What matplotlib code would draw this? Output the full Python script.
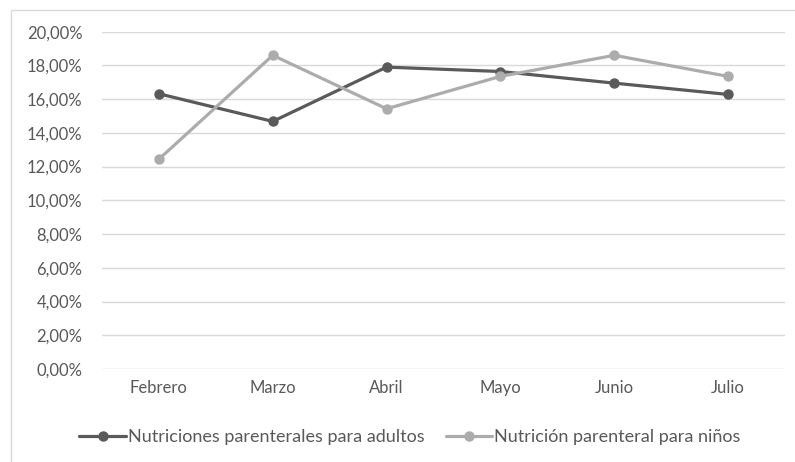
import matplotlib.pyplot as plt
from matplotlib.lines import Line2D
from matplotlib.ticker import FuncFormatter

meses = ['Febrero', 'Marzo', 'Abril', 'Mayo', 'Junio', 'Julio']
adultos = [16.32, 14.68, 17.90, 17.64, 16.95, 16.28]
ninos = [12.44, 18.60, 15.43, 17.35, 18.60, 17.35]
yticks = [0, 2, 4, 6, 8, 10, 12, 14, 16, 18, 20]

plt.rcParams['font.family'] = ['Lato', 'DejaVu Sans']
text_gray = '#595959'

fig = plt.figure(figsize=(7.95, 4.62), dpi=100, facecolor='white')
ax = fig.add_axes([102 / 795, 1 - 369 / 462, 683 / 795, 337.3 / 462])

x = range(len(meses))
ax.plot(x, adultos, color='#5a5a5a', lw=2.3, marker='o', ms=6.5,
        label='Nutriciones parenterales para adultos', solid_capstyle='round')
ax.plot(x, ninos, color='#acacac', lw=2.3, marker='o', ms=6.5,
        label='Nutrición parenteral para niños', solid_capstyle='round')

ax.set_xlim(-0.5, len(meses) - 0.5)
ax.set_ylim(0, 20)
ax.set_yticks(yticks)
ax.yaxis.set_major_formatter(FuncFormatter(lambda v, p: f'{v:.2f}%'.replace('.', ',')))
ax.set_xticks(list(x))
ax.set_xticklabels(meses)
ax.grid(axis='y', color='#d9d9d9', lw=1)
ax.set_axisbelow(True)
for s in ax.spines.values():
    s.set_visible(False)
ax.tick_params(length=0, labelsize=12, colors=text_gray)
ax.tick_params(axis='y', pad=14)
ax.tick_params(axis='x', pad=8)

fig.legend(loc='center', bbox_to_anchor=(410 / 795, 1 - 437 / 462), ncol=2,
           frameon=False, fontsize=13, labelcolor=text_gray,
           handlelength=2.6, handletextpad=0.1, columnspacing=1.15)

# chart area frame (top and left edges)
fig.add_artist(Line2D([11 / 795, 11 / 795, 1], [0, 1 - 10 / 462, 1 - 10 / 462],
                      transform=fig.transFigure, color='#d9d9d9', lw=1))

fig.savefig('out.png', dpi=100, facecolor='white')
